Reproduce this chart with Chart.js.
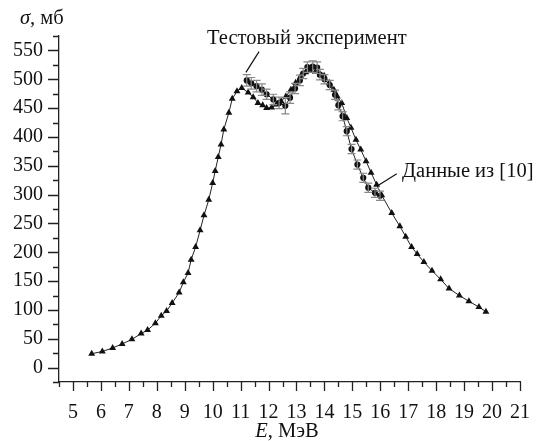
<!DOCTYPE html>
<html>
<head>
  <meta charset="utf-8">
  <script src="https://cdn.jsdelivr.net/npm/chart.js@4.4.0/dist/chart.umd.min.js"></script>
  <style>
    body { margin: 0; background: #fff; }
    #wrap { width: 536px; height: 441px; }
  </style>
</head>
<body>
  <div id="wrap"><canvas id="graph" width="536" height="441"></canvas></div>

  <script>
    // data from [10] (triangles)
    var refE = [5.67, 6.05, 6.42, 6.76, 7.11, 7.44, 7.67, 7.95, 8.16, 8.35, 8.55, 8.80,
      8.95, 9.12, 9.23, 9.39, 9.55, 9.69, 9.86, 10.00, 10.09, 10.20, 10.30, 10.40,
      10.58, 10.70, 10.87, 11.04, 11.27, 11.45, 11.62, 11.79, 11.93, 12.11, 12.28,
      12.45, 12.62, 12.80, 12.97, 13.15, 13.33, 13.50, 13.68, 13.85, 13.99, 14.17,
      14.34, 14.46, 14.62, 14.80, 14.95, 15.13, 15.30, 15.49, 15.67, 15.87, 16.05,
      16.41, 16.70, 16.91, 17.12, 17.32, 17.56, 17.85, 18.16, 18.46, 18.83, 19.17,
      19.53, 19.78];
    var refSigma = [24, 28, 34, 41, 49, 59, 65, 77, 90, 98, 112, 130,
      148, 164, 187, 209, 238, 264, 291, 320, 341, 365, 387, 413,
      442, 466, 479, 485, 477, 469, 459, 455, 450, 451, 456,
      462, 470, 482, 494, 505, 512, 515, 513, 508, 506, 494,
      482, 470, 459, 433, 416, 395, 378, 358, 338, 317, 299,
      268, 245, 227, 209, 197, 183, 168, 153, 137, 125, 115,
      105, 97];

    // test experiment (circles with error bars)
    var testE = [11.22, 11.38, 11.57, 11.76, 11.93, 12.17, 12.38, 12.60, 12.77, 12.95,
      13.12, 13.24, 13.39, 13.58, 13.74, 13.84, 14.00, 14.19, 14.38, 14.50, 14.65,
      14.80, 14.97, 15.18, 15.39, 15.57, 15.81, 15.99];
    var testSigma = [498, 493, 488, 482, 474, 465, 459, 454, 468, 484,
      498, 510, 521, 522, 520, 508, 500, 490, 473, 455, 436,
      410, 379, 352, 329, 312, 303, 298];
    var testErr = [10, 10, 10, 10, 9, 9, 10, 14, 10, 9,
      9, 9, 9, 10, 10, 9, 8, 8, 8, 8, 8,
      8, 8, 8, 8, 8, 8, 8];

    var xTicksMin = 4.5, xTicksMax = 21;
    var yTicksMin = -25, yTicksMax = 575;

    // annotations in data units: [text, textE, textSigma, lineFromE, lineFromS, lineToE, lineToS]
    var notes = [
      ['Тестовый эксперимент', 13.37, 570, 11.66, 548, 11.19, 512],
      ['Данные из [10]', 16.78, 340, 16.59, 336, 15.89, 315]
    ];

    var FONT = '"Liberation Serif", "Times New Roman", serif';

    function pts(xs, ys) {
      var out = [];
      for (var i = 0; i < xs.length; i++) out.push({ x: xs[i], y: ys[i] });
      return out;
    }

    var errorBars = {
      id: 'errorBars',
      afterDatasetsDraw: function(chart) {
        var c = chart.ctx, xs = chart.scales.x, ys = chart.scales.y;
        c.save();
        c.strokeStyle = '#888';
        c.lineWidth = 1.2;
        for (var i = 0; i < testE.length; i++) {
          var px = xs.getPixelForValue(testE[i]);
          var top = ys.getPixelForValue(testSigma[i] + testErr[i]);
          var bot = ys.getPixelForValue(testSigma[i] - testErr[i]);
          c.beginPath();
          c.moveTo(px, top); c.lineTo(px, bot);
          c.moveTo(px - 4, top); c.lineTo(px + 4, top);
          c.moveTo(px - 4, bot); c.lineTo(px + 4, bot);
          c.stroke();
        }
        c.restore();
      }
    };

    var axisDecor = {
      id: 'axisDecor',
      afterDraw: function(chart) {
        var c = chart.ctx, xs = chart.scales.x, ys = chart.scales.y, a = chart.chartArea;
        c.save();
        c.strokeStyle = '#222';
        c.lineWidth = 1.3;
        c.beginPath();
        xs.ticks.forEach(function(t) {
          var px = Math.round(xs.getPixelForValue(t.value)) + 0.5;
          var len = Math.abs(t.value % 1) < 1e-6 ? 9 : 5;
          c.moveTo(px, a.bottom); c.lineTo(px, a.bottom + len);
        });
        ys.ticks.forEach(function(t) {
          var py = Math.round(ys.getPixelForValue(t.value)) + 0.5;
          var len = Math.abs(t.value % 50) < 1e-6 ? 11 : 6;
          c.moveTo(a.left, py); c.lineTo(a.left - len, py);
        });
        c.stroke();

        // axis titles with italic symbol
        c.fillStyle = '#111';
        c.textBaseline = 'alphabetic';
        c.font = 'italic 20.5px ' + FONT;
        var w1 = c.measureText('σ').width;
        c.fillText('σ', 20, 24);
        c.font = '20.5px ' + FONT;
        c.fillText(', мб', 20 + w1, 24);

        c.font = 'italic 20.5px ' + FONT;
        var wE = c.measureText('E').width;
        c.font = '20.5px ' + FONT;
        var wR = c.measureText(', МэВ').width;
        var sx = 287 - (wE + wR) / 2;
        c.font = 'italic 20.5px ' + FONT;
        c.fillText('E', sx, 437);
        c.font = '20.5px ' + FONT;
        c.fillText(', МэВ', sx + wE, 437);

        // annotations
        c.lineWidth = 1.2;
        c.strokeStyle = '#111';
        c.textBaseline = 'middle';
        notes.forEach(function(n, i) {
          var tx = xs.getPixelForValue(n[1]), ty = ys.getPixelForValue(n[2]);
          c.textAlign = i === 0 ? 'center' : 'left';
          c.fillText(n[0], tx, ty);
          c.beginPath();
          c.moveTo(xs.getPixelForValue(n[3]), ys.getPixelForValue(n[4]));
          c.lineTo(xs.getPixelForValue(n[5]), ys.getPixelForValue(n[6]));
          c.stroke();
        });
        c.restore();
      }
    };

    var ctx = document.getElementById('graph');
    var chart = new Chart(ctx, {
      type: 'scatter',
      data: {
        datasets: [{
          label: 'Данные из [10]',
          data: pts(refE, refSigma),
          showLine: true,
          borderColor: '#222',
          borderWidth: 1,
          backgroundColor: '#111',
          pointStyle: 'triangle',
          pointRadius: 4,
          pointBorderWidth: 0
        }, {
          label: 'Тестовый эксперимент',
          data: pts(testE, testSigma),
          showLine: true,
          borderColor: '#222',
          borderWidth: 1,
          backgroundColor: '#111',
          pointStyle: 'circle',
          pointRadius: 3.1,
          pointBorderWidth: 0
        }]
      },
      options: {
        responsive: false,
        animation: false,
        layout: { padding: { left: 0, top: 36, right: 16, bottom: 0 } },
        plugins: { legend: { display: false }, tooltip: { enabled: false } },
        scales: {
          x: {
            type: 'linear',
            min: xTicksMin,
            max: xTicksMax,
            grid: { display: false },
            border: { display: true, color: '#222', width: 1.3 },
            afterFit: function(s) { s.height = 59; s.paddingRight = 0; s.paddingLeft = 0; },
            ticks: {
              stepSize: 0.5,
              padding: 11,
              color: '#111',
              maxRotation: 0,
              autoSkip: false,
              font: { family: FONT, size: 20 },
              callback: function(v) { return (Math.abs(v % 1) < 1e-6 && v >= 5) ? String(v) : ''; }
            }
          },
          y: {
            type: 'linear',
            min: yTicksMin,
            max: yTicksMax,
            grid: { display: false },
            border: { display: true, color: '#222', width: 1.3 },
            afterFit: function(s) { s.width = 59; s.paddingTop = 0; s.paddingBottom = 0; },
            ticks: {
              stepSize: 25,
              padding: 8,
              color: '#111',
              autoSkip: false,
              font: { family: FONT, size: 20 },
              callback: function(v) { return (Math.abs(v % 50) < 1e-6 && v >= 0 && v <= 550) ? String(v) : ''; }
            }
          }
        }
      },
      plugins: [errorBars, axisDecor]
    });
  </script>
</body>
</html>
